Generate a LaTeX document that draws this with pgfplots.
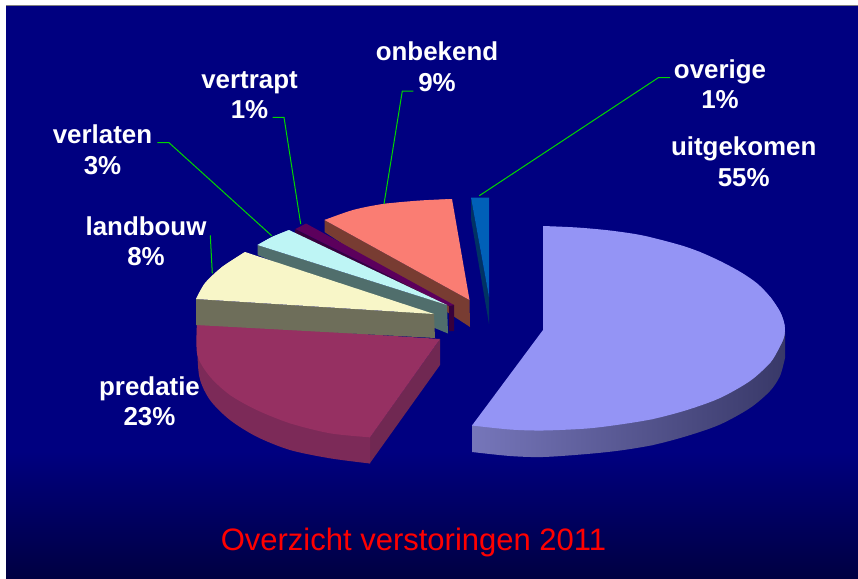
\documentclass[border=0pt]{standalone}
\usepackage{fontspec}
\setmainfont{Liberation Sans}
\usepackage{pgfplots}
\pgfplotsset{compat=1.18}
\definecolor{navy}{RGB}{0,0,128}
\definecolor{navyd}{RGB}{0,0,66}
\definecolor{lblgreen}{RGB}{0,215,0}
\definecolor{predT}{RGB}{150,48,98}
\definecolor{predS}{RGB}{124,42,88}
\definecolor{predR}{RGB}{112,40,82}
\definecolor{landT}{RGB}{248,246,200}
\definecolor{landS}{RGB}{110,110,90}
\definecolor{verlT}{RGB}{190,245,245}
\definecolor{verlS}{RGB}{80,110,108}
\definecolor{vertT}{RGB}{92,0,92}
\definecolor{vertS}{RGB}{56,0,60}
\definecolor{onbT}{RGB}{250,125,115}
\definecolor{onbS}{RGB}{120,60,50}
\definecolor{oveT}{RGB}{0,96,184}
\definecolor{oveS}{RGB}{0,50,100}
\definecolor{uitT}{RGB}{148,148,245}
\definecolor{uitA}{RGB}{118,118,186}
\definecolor{uitB}{RGB}{84,84,140}
\definecolor{uitC}{RGB}{56,56,104}
\newcommand{\lab}[3]{\node[text=white,font=\fontsize{25.9}{30}\selectfont\bfseries,anchor=base,inner sep=0pt] at (axis cs:#1,#2) {#3};}
\begin{document}
\begin{tikzpicture}
\begin{axis}[at={(0,0)},anchor=south west,scale only axis,width=858pt,height=578pt,
  xmin=0,xmax=858,ymin=0,ymax=578,y dir=reverse,axis lines=none,clip=true]
% page and slide background
\addplot[fill=white,draw=none] coordinates {(0,0)(858,0)(858,578)(0,578)};
\addplot[fill=navy,draw=none] coordinates {(6,6)(858,6)(858,452)(6,452)};
\addplot[draw=none,top color=navy,bottom color=navyd] coordinates {(6,451)(858,451)(858,578)(6,578)};
\addplot[draw=gray,line width=0.8pt] coordinates {(6,5.5)(858,5.5)};
% onbekend
\addplot[fill=onbS,draw=none] coordinates {(324.5,220)(469.5,300)(470,327)(324.5,232)};
\addplot[fill=onbT,draw=none,smooth] coordinates {(324.5,220)(353,210)(383,204)(420,200.5)(452,199)};
\addplot[fill=onbT,draw=none] coordinates {(324.5,220)(383,204)(452,199)(469.5,300)};
% vertrapt
\addplot[fill=vertS,draw=none] coordinates {(295,229)(449,306)(449,331)(454,331)(454,305)(295,255)};
\addplot[fill=vertT,draw=none] coordinates {(295.5,229)(306,223.5)(454,305)(449,306)};
% verlaten
\addplot[fill=verlS,draw=none] coordinates {(257.5,245)(447,305)(448,333.5)(257.5,255)};
\addplot[fill=verlT,draw=none,smooth] coordinates {(257.5,245)(272,237)(289,230)};
\addplot[fill=verlT,draw=none] coordinates {(257.5,245)(272,237)(289,230)(447,305)};
% predatie: side
\addplot[fill=predR,draw=none] coordinates {(440,339)(440,365)(370,463)(370,437)};
\addplot[fill=predS,draw=none,smooth] coordinates {(197,323)(197,340)(199.3,376.7)(210,400)(230,420)(256.7,436.7)(290,450)(330,458.3)(370,463.5)};
\addplot[fill=predS,draw=none] coordinates {(197,323)(230,415)(370,463.5)(370,437)};
% predatie: top
\addplot[fill=predT,draw=none,smooth] coordinates {(370,437.3)(330,433.3)(290,423.3)(256.7,410)(230,395)(210,376.7)(197.3,355)(197,323)};
\addplot[fill=predT,draw=none] coordinates {(197,323)(440,339)(370,437.3)(290,423.3)(230,395)};
% landbouw
\addplot[fill=landS,draw=none] coordinates {(196,299)(434,314)(435,338)(196,325)};
\addplot[fill=landT,draw=none,smooth] coordinates {(196,299)(205,283)(222,267)(245,252)};
\addplot[fill=landT,draw=none] coordinates {(196,299)(222,267)(245,252)(434,314)};
% overige
\addplot[fill=oveS,draw=none] coordinates {(471,197.5)(489,297)(489,324)(471,219)};
\addplot[fill=oveT,draw=none] coordinates {(471,197.5)(489,197.5)(489,297)};
% uitgekomen: side
\addplot[left color=uitA,middle color=uitB,right color=uitC,draw=none,smooth] coordinates {(472,452)(510,456)(543,457)(587,454)(620,450.5)(653,445)(687,436)(720,424.5)(750,408)(770,391)(780,376)(785,358)};
\addplot[left color=uitA,middle color=uitB,right color=uitC,draw=none] coordinates {(472,425)(472,452)(653,445)(785,358)(785,331)};
% uitgekomen: top
\addplot[fill=uitT,draw=none,smooth] coordinates {(543,226)(577,227.5)(610,230.5)(643,235.5)(680,245)(700,252)(720,261)(740,271.7)(757,283.3)(770,296.7)(780,311.7)(784.5,325)(784,337)(778,350)(770,363)};
\addplot[fill=uitT,draw=none,smooth] coordinates {(770,296.7)(780,311.7)(784.5,325)(784,337)(778,350)(770,363)(750,381)(720,398)(687,410)(653,419)(620,424.5)(587,428.5)(543,430.5)(510,429.5)(472,425.5)};
\addplot[fill=uitT,draw=none] coordinates {(543,226)(700,252)(784,332)(653,419)(472,425.5)(543,330)};
% leader lines
\addplot[lblgreen,line width=1pt] coordinates {(479.3,195.7)(658.3,77.7)(670,77.7)};
\addplot[lblgreen,line width=1pt] coordinates {(384,204)(402.3,91)(413.3,91)};
\addplot[lblgreen,line width=1pt] coordinates {(300.7,224)(284,117.3)(272.7,117.3)};
\addplot[lblgreen,line width=1pt] coordinates {(271.7,235.7)(169,142.7)(157.3,142.7)};
\addplot[lblgreen,line width=1pt] coordinates {(212.3,273.3)(210.3,235.3)};
% labels
\lab{437}{60.5}{onbekend}\lab{437}{91.5}{9\%}
\lab{249.5}{88}{vertrapt}\lab{249.5}{118.5}{1\%}
\lab{102.5}{143}{verlaten}\lab{102.5}{174}{3\%}
\lab{146}{235.5}{landbouw}\lab{146}{265.5}{8\%}
\lab{149.5}{395.5}{predatie}\lab{149.5}{425}{23\%}
\lab{720}{78}{overige}\lab{720}{108.5}{1\%}
\lab{743.7}{155.5}{uitgekomen}\lab{743.7}{186.5}{55\%}
\node[text=red,font=\fontsize{31}{36}\selectfont,anchor=base,inner sep=0pt] at (axis cs:413.5,550) {Overzicht verstoringen 2011};
\end{axis}
\end{tikzpicture}
\end{document}
